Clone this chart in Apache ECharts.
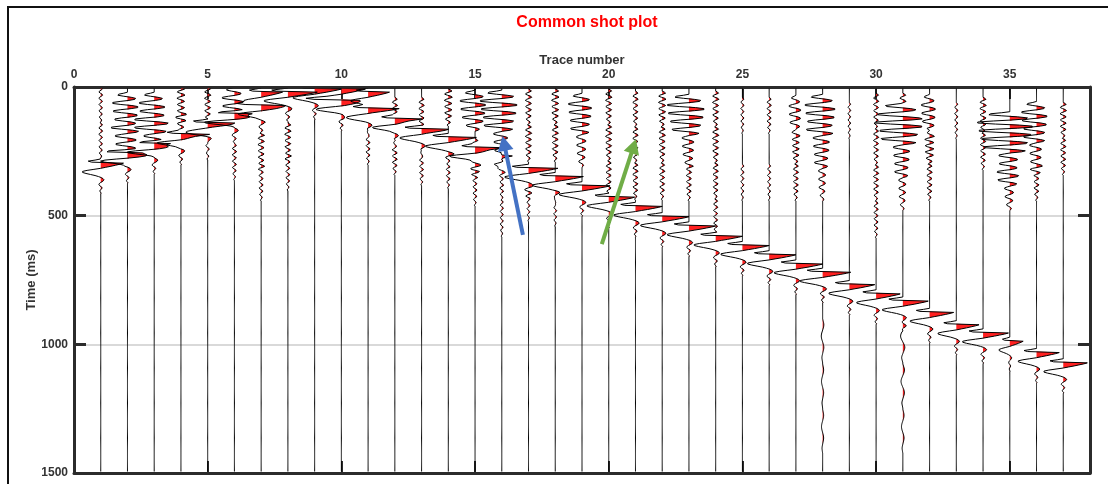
<!DOCTYPE html>
<html>
<head>
<meta charset="utf-8">
<script src="https://cdn.jsdelivr.net/npm/echarts@6/dist/echarts.min.js"></script>
<style>
  html, body { margin: 0; padding: 0; background: #ffffff; }
  #chart { width: 1108px; height: 484px; }
</style>
</head>
<body>
<div id="chart"></div>
<script>
// ---- Shot gather data (time in ms, amplitude in trace-spacing units) ----
const traceNumbers = [1,2,3,4,5,6,7,8,9,10,11,12,13,14,15,16,17,18,19,20,21,22,23,24,25,26,27,28,29,30,31,32,33,34,35,36,37];

// first-break (peak) time of the direct arrival on each trace
const arrivalTimes = [296,256,220,184,140,104,72,20,8,52,84,124,164,196,236,268,316,348,384,428,464,504,540,580,616,652,688,720,768,804,832,876,924,956,988,1032,1072];
const arrivalAmps  = [0.85,0.95,0.95,1.0,1.05,1.05,1.0,1.1,1.0,1.1,1.05,0.95,1.0,1.05,1.05,0.35,1.1,1.05,1.05,1.0,1.0,1.0,1.0,1.0,1.0,1.0,1.0,1.05,0.95,0.9,0.95,0.9,0.85,0.95,0.5,0.85,0.9];

// secondary near-offset arrivals: [trace, peak time, amplitude]
const extraArrivals = [[7,20,0.8],[10,8,0.9],[11,20,0.8]];

// sampling interval of all traces and wavelets
const timeStep = 4;
const timeMax = 1500;

// direct-arrival wavelet, one value per 4 ms, peak at sample 4
const waveletPeakIndex = 4;
const wavelet = [0,-0.25,-0.55,-0.4,1.0,0.85,0.65,0.45,0.22,0.0,-0.3,-0.6,-0.8,-0.8,-0.65,-0.45,-0.25,-0.1,0.02,0.1,0.14,0.12,0.06,-0.02,-0.07,-0.08,-0.04,0.03,0.06,0.04,-0.02,-0.04,-0.02,0.02,0];

// ringing noise burst, one value per 4 ms
const ringShape = [0,-0.25,-0.6,-0.65,-0.25,0.25,0.55,0.5,0.1,-0.5,-1.0,-1.0,-0.45,0.3,0.7,0.7,0.25,-0.45,-0.95,-0.95,-0.4,0.3,0.65,0.65,0.25,-0.4,-0.85,-0.85,-0.35,0.25,0.55,0.5,0.15,-0.3,-0.6,-0.55,-0.2,0.15,0.3,0.2,0];

// low-level background wiggle, one value per 4 ms
const noiseShape = [0,0.6,0.9,0.2,-0.7,-0.9,-0.2,0.7,1.0,0.3,-0.6,-1.0,-0.4,0.5,0.9,0.4,-0.5,-0.9,-0.5,0.3,0.9,0.6,-0.3,-0.9,-0.6,0.2,0.8,0.6,-0.2,-0.7,-0.5,0.1,0.5,0.4,-0.1,-0.3,0];

// slow late-time swell, one value per 4 ms
const swellShape = [0,0.15,0.3,0.45,0.6,0.7,0.75,0.7,0.6,0.45,0.25,0.05,-0.15,-0.35,-0.55,-0.7,-0.8,-0.85,-0.8,-0.7,-0.55,-0.35,-0.15,0.05,0.25,0.45,0.6,0.7,0.75,0.7,0.6,0.45,0.3,0.15,0,-0.15,-0.3,-0.4,-0.45,-0.4,-0.3,-0.2,-0.1,0];

// [trace, start time, amplitude]
const ringEvents = [
  [2,20,0.55],[2,148,0.45],
  [3,20,0.55],[3,116,0.4],
  [6,0,0.45],
  [15,12,0.55],
  [16,12,0.8],[16,140,0.3],
  [19,24,0.5],[19,152,0.2],
  [23,28,0.8],[23,156,0.25],
  [27,32,0.25],
  [28,28,0.65],[28,156,0.35],[28,284,0.15],
  [31,64,1.0],[31,192,0.35],[31,320,0.15],
  [32,28,0.3],
  [35,96,1.2],[35,224,0.4],[35,320,0.2],
  [36,56,0.55],[36,184,0.25]
];
const noiseEvents = [
  [1,0,0.07],[1,140,0.07],
  [4,0,0.15],[4,100,0.12],
  [5,0,0.12],[5,140,0.08],
  [6,220,0.08],
  [7,180,0.12],[7,300,0.08],
  [8,140,0.12],[8,260,0.08],
  [11,160,0.08],
  [12,40,0.1],[12,200,0.1],
  [13,40,0.1],[13,240,0.08],
  [14,8,0.15],[14,250,0.08],
  [15,200,0.12],[15,320,0.08],
  [16,300,0.08],[16,440,0.06],
  [17,8,0.12],[17,148,0.12],[17,380,0.06],
  [18,8,0.14],[18,148,0.12],[18,400,0.06],
  [20,8,0.12],[20,148,0.12],[20,288,0.1],
  [21,16,0.1],[21,156,0.1],[21,296,0.1],
  [22,16,0.14],[22,156,0.12],[22,296,0.1],
  [23,300,0.1],
  [24,16,0.12],[24,156,0.12],[24,296,0.1],[24,436,0.08],
  [25,40,0.06],[25,300,0.06],
  [26,40,0.08],[26,300,0.06],
  [27,160,0.14],[27,300,0.1],
  [29,60,0.05],
  [30,24,0.1],[30,164,0.1],[30,304,0.1],[30,444,0.08],
  [31,24,0.12],
  [32,160,0.18],[32,300,0.1],
  [33,60,0.06],
  [34,40,0.12],[34,180,0.1],
  [36,300,0.1],
  [37,60,0.12],[37,200,0.1]
];
const swellEvents = [
  [28,900,0.06],[28,1076,0.05],[28,1252,0.05],
  [31,900,0.1],[31,1076,0.08],[31,1252,0.06]
];

// annotation arrows in chart coordinates: [trace, time] tail -> head
const arrowTails = [[16.79,575],[19.74,611]];
const arrowHeads = [[16.03,190],[21.02,202]];

// ---- assemble sampled traces on the common 4 ms grid ----
const nSamples = Math.floor(timeMax / timeStep) + 1;
const traces = traceNumbers.map(() => new Array(nSamples).fill(0));

function addShape(traceNo, startMs, amp, shape) {
  const tr = traces[traceNumbers.indexOf(traceNo)];
  const i0 = Math.round(startMs / timeStep);
  for (let j = 0; j < shape.length; j++) {
    const i = i0 + j;
    if (i >= 0 && i < nSamples) tr[i] += amp * shape[j];
  }
}
traceNumbers.forEach((n, k) => addShape(n, arrivalTimes[k] - waveletPeakIndex * timeStep, arrivalAmps[k], wavelet));
extraArrivals.forEach(([n, t, a]) => addShape(n, t - waveletPeakIndex * timeStep, a, wavelet));
ringEvents.forEach(([n, t, a]) => addShape(n, t, a, ringShape));
noiseEvents.forEach(([n, t, a]) => addShape(n, t, a, noiseShape));
swellEvents.forEach(([n, t, a]) => addShape(n, t, a, swellShape));

// ---- chart ----
const FONT = '"Liberation Sans", Arial, Helvetica, sans-serif';
const AXIS_COLOR = '#2b2b2b';
const LABEL_COLOR = '#333333';
const FILL_RED = '#ff2020';
const ARROW_COLORS = ['#4472c4', '#70ad47'];

function clipRect(cs) {
  const inset = 1.5;
  return { type: 'rect', shape: { x: cs.x + inset, y: cs.y + inset, width: cs.width - 2 * inset, height: cs.height - 2 * inset } };
}

// variable-area fill (positive lobes)
function renderFill(params, api) {
  const k = params.dataIndex;
  const n = traceNumbers[k];
  const tr = traces[k];
  const pts = [api.coord([n, 0])];
  for (let i = 0; i < nSamples; i++) pts.push(api.coord([n + Math.max(0, tr[i]), i * timeStep]));
  pts.push(api.coord([n, (nSamples - 1) * timeStep]));
  return {
    type: 'group',
    clipPath: clipRect(params.coordSys),
    children: [{ type: 'polygon', shape: { points: pts }, style: { fill: FILL_RED, stroke: null } }]
  };
}

// wiggle line
function renderWiggle(params, api) {
  const k = params.dataIndex;
  const n = traceNumbers[k];
  const tr = traces[k];
  const pts = [];
  for (let i = 0; i < nSamples; i++) pts.push(api.coord([n + tr[i], i * timeStep]));
  return {
    type: 'group',
    clipPath: clipRect(params.coordSys),
    children: [{ type: 'polyline', shape: { points: pts }, style: { stroke: '#000000', lineWidth: 1, fill: null } }]
  };
}

function renderArrow(params, api) {
  const p0 = api.coord([api.value(0), api.value(1)]);
  const p1 = api.coord([api.value(2), api.value(3)]);
  const dx = p1[0] - p0[0], dy = p1[1] - p0[1];
  const len = Math.hypot(dx, dy);
  const ux = dx / len, uy = dy / len;
  const headLen = 15, headHalf = 8;
  const base = [p1[0] - ux * headLen, p1[1] - uy * headLen];
  const color = ARROW_COLORS[params.dataIndex];
  return {
    type: 'group',
    children: [
      { type: 'line', shape: { x1: p0[0], y1: p0[1], x2: base[0] + ux * 2, y2: base[1] + uy * 2 }, style: { stroke: color, lineWidth: 4 } },
      { type: 'polygon', shape: { points: [p1, [base[0] - uy * headHalf, base[1] + ux * headHalf], [base[0] + uy * headHalf, base[1] - ux * headHalf]] }, style: { fill: color } }
    ]
  };
}

const tickStyle = (w) => ({ show: true, inside: true, length: 12, lineStyle: { color: AXIS_COLOR, width: w } });
const lineStyle = { show: true, onZero: false, lineStyle: { color: AXIS_COLOR, width: 3 } };
const labelStyle = { fontFamily: FONT, fontWeight: 'bold', fontSize: 12, color: LABEL_COLOR };
const nameStyle = { fontFamily: FONT, fontWeight: 'bold', fontSize: 13, color: LABEL_COLOR };

const chart = echarts.init(document.getElementById('chart'), null, { renderer: 'canvas' });
chart.setOption({
  animation: false,
  backgroundColor: '#ffffff',
  title: {
    text: 'Common shot plot',
    left: 582, top: 10, textAlign: 'center',
    textStyle: { fontFamily: FONT, fontWeight: 'bold', fontSize: 16, color: '#ff0000' }
  },
  graphic: [{
    type: 'rect', silent: true, z: -10,
    shape: { x: 8, y: 7, width: 1200, height: 600 },
    style: { fill: 'none', stroke: '#111111', lineWidth: 2 }
  }],
  grid: { left: 74, right: 18, top: 87, bottom: 11, containLabel: false, outerBoundsMode: 'none' },
  xAxis: [{
    type: 'value', position: 'top', min: 0, max: 38, interval: 5,
    name: 'Trace number', nameLocation: 'middle', nameGap: 20, nameMoveOverlap: false, nameTextStyle: nameStyle,
    axisLine: lineStyle, axisTick: tickStyle(2),
    axisLabel: Object.assign({ margin: 6, formatter: v => (v % 5 === 0 ? String(v) : '') }, labelStyle),
    splitLine: { show: false }
  }, {
    type: 'value', position: 'bottom', min: 0, max: 38, interval: 5,
    axisLine: lineStyle, axisTick: tickStyle(2),
    axisLabel: { show: false }, splitLine: { show: false }
  }],
  yAxis: [{
    type: 'value', position: 'left', inverse: true, min: 0, max: 1500, interval: 500,
    name: 'Time (ms)', nameLocation: 'middle', nameGap: 36, nameMoveOverlap: false, nameTextStyle: nameStyle,
    axisLine: lineStyle, axisTick: tickStyle(3),
    axisLabel: Object.assign({ margin: 6, formatter: v => String(v) }, labelStyle),
    splitLine: { show: true, lineStyle: { color: '#d9d9d9', width: 2 } }
  }, {
    type: 'value', position: 'right', inverse: true, min: 0, max: 1500, interval: 500,
    axisLine: lineStyle, axisTick: tickStyle(3),
    axisLabel: { show: false }, splitLine: { show: false }
  }],
  series: [{
    type: 'custom', name: 'fill', xAxisIndex: 0, yAxisIndex: 0, z: 2,
    data: traceNumbers.map(n => [n, 0]),
    renderItem: renderFill, silent: true
  }, {
    type: 'custom', name: 'wiggle', xAxisIndex: 0, yAxisIndex: 0, z: 3,
    data: traceNumbers.map(n => [n, 0]),
    renderItem: renderWiggle, silent: true
  }, {
    type: 'custom', name: 'arrows', xAxisIndex: 0, yAxisIndex: 0, z: 5,
    data: arrowTails.map((p, i) => [p[0], p[1], arrowHeads[i][0], arrowHeads[i][1]]),
    encode: { x: [0, 2], y: [1, 3] },
    renderItem: renderArrow, silent: true
  }]
});
</script>
</body>
</html>
